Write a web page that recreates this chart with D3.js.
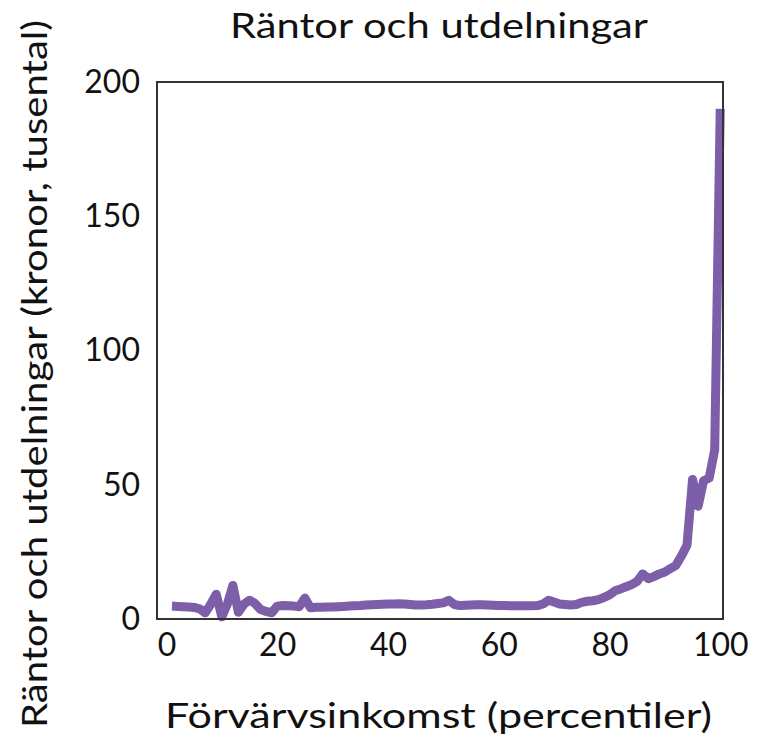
<!DOCTYPE html>
<html>
<head>
<meta charset="utf-8">
<script src="https://cdn.jsdelivr.net/npm/d3@7.9.0/dist/d3.min.js"></script>
<style>
  body { margin: 0; background: #fff; }
  svg text { font-family: Lato, "Open Sans", sans-serif; fill: #111; }
</style>
</head>
<body>
<svg id="chart" width="762" height="743"></svg>
<script>
// percentiler 1..100
const percentiles = d3.range(1, 101);
const values = [
  4.8, 4.7, 4.6, 4.5, 4.3, 3.8, 2.3, 5.5, 9.2, 0.8,
  5.5, 12.5, 2.5, 5.5, 7.0, 5.8, 3.5, 2.8, 2.3, 4.8,
  5.0, 4.9, 4.8, 4.6, 7.8, 4.2, 4.4, 4.4, 4.5, 4.5,
  4.6, 4.7, 4.8, 4.9, 5.0, 5.2, 5.3, 5.4, 5.5, 5.6,
  5.6, 5.7, 5.6, 5.4, 5.2, 5.2, 5.3, 5.5, 5.8, 6.0,
  7.0, 5.4, 5.0, 5.1, 5.2, 5.3, 5.3, 5.2, 5.1, 5.0,
  5.0, 4.9, 4.9, 4.9, 4.9, 4.9, 5.0, 5.6, 7.0, 6.3,
  5.6, 5.4, 5.2, 5.4, 6.2, 6.6, 6.8, 7.2, 8.0, 9.0,
  10.5, 11.2, 12.0, 12.8, 14.0, 16.8, 15.0, 15.8, 16.8, 17.5,
  18.8, 20.0, 23.5, 27.5, 52.0, 42.0, 51.5, 52.5, 63.0, 190.0
];
const xTicks = [0, 20, 40, 60, 80, 100];
const yTicks = [0, 50, 100, 150, 200];

const title = "Räntor och utdelningar";
const xLabel = "Förvärvsinkomst (percentiler)";
const yLabel = "Räntor och utdelningar (kronor, tusental)";

const svg = d3.select('#chart');
const m = { left: 157, right: 723, top: 82, bottom: 619 };

let x = d3.scaleLinear().domain([-1.7, 100.5]).range([m.left, m.right]);
let y = d3.scaleLinear().domain([0, 200]).range([m.bottom, m.top]);

// axes, no tick marks
let xAxis = svg.append('g')
  .attr('transform', `translate(0,${m.bottom})`)
  .call(d3.axisBottom(x).tickValues(xTicks).tickSize(0).tickPadding(14));
xAxis.select('.domain').remove();
xAxis.selectAll('text').attr('font-size', 32).attr('dy', '0.71em');

let yAxis = svg.append('g')
  .attr('transform', `translate(${m.left},0)`)
  .call(d3.axisLeft(y).tickValues(yTicks).tickSize(0).tickPadding(17));
yAxis.select('.domain').remove();
yAxis.selectAll('text').attr('font-size', 32);

// line
let data = percentiles.map((p, i) => ({ p: p, v: values[i] }));
let line = d3.line().x(d => x(d.p)).y(d => y(d.v));
svg.append('path')
  .datum(data)
  .attr('d', line)
  .attr('fill', 'none')
  .attr('stroke', '#7c5ea9')
  .attr('stroke-width', 9)
  .attr('stroke-linejoin', 'round')
  .attr('stroke-linecap', 'butt');

// frame
svg.append('rect')
  .attr('x', m.left).attr('y', m.top)
  .attr('width', m.right - m.left).attr('height', m.bottom - m.top)
  .attr('fill', 'none').attr('stroke', '#333').attr('stroke-width', 2);

// texts (the reference font is wide, so stretch to its length)
svg.append('text')
  .attr('x', 230).attr('y', 38)
  .attr('font-size', 35)
  .attr('textLength', 418).attr('lengthAdjust', 'spacingAndGlyphs')
  .text(title);

svg.append('text')
  .attr('x', 165).attr('y', 728)
  .attr('font-size', 35)
  .attr('textLength', 547).attr('lengthAdjust', 'spacingAndGlyphs')
  .text(xLabel);

svg.append('text')
  .attr('transform', `translate(47,728) rotate(-90)`)
  .attr('font-size', 35)
  .attr('textLength', 708).attr('lengthAdjust', 'spacingAndGlyphs')
  .text(yLabel);
</script>
</body>
</html>
